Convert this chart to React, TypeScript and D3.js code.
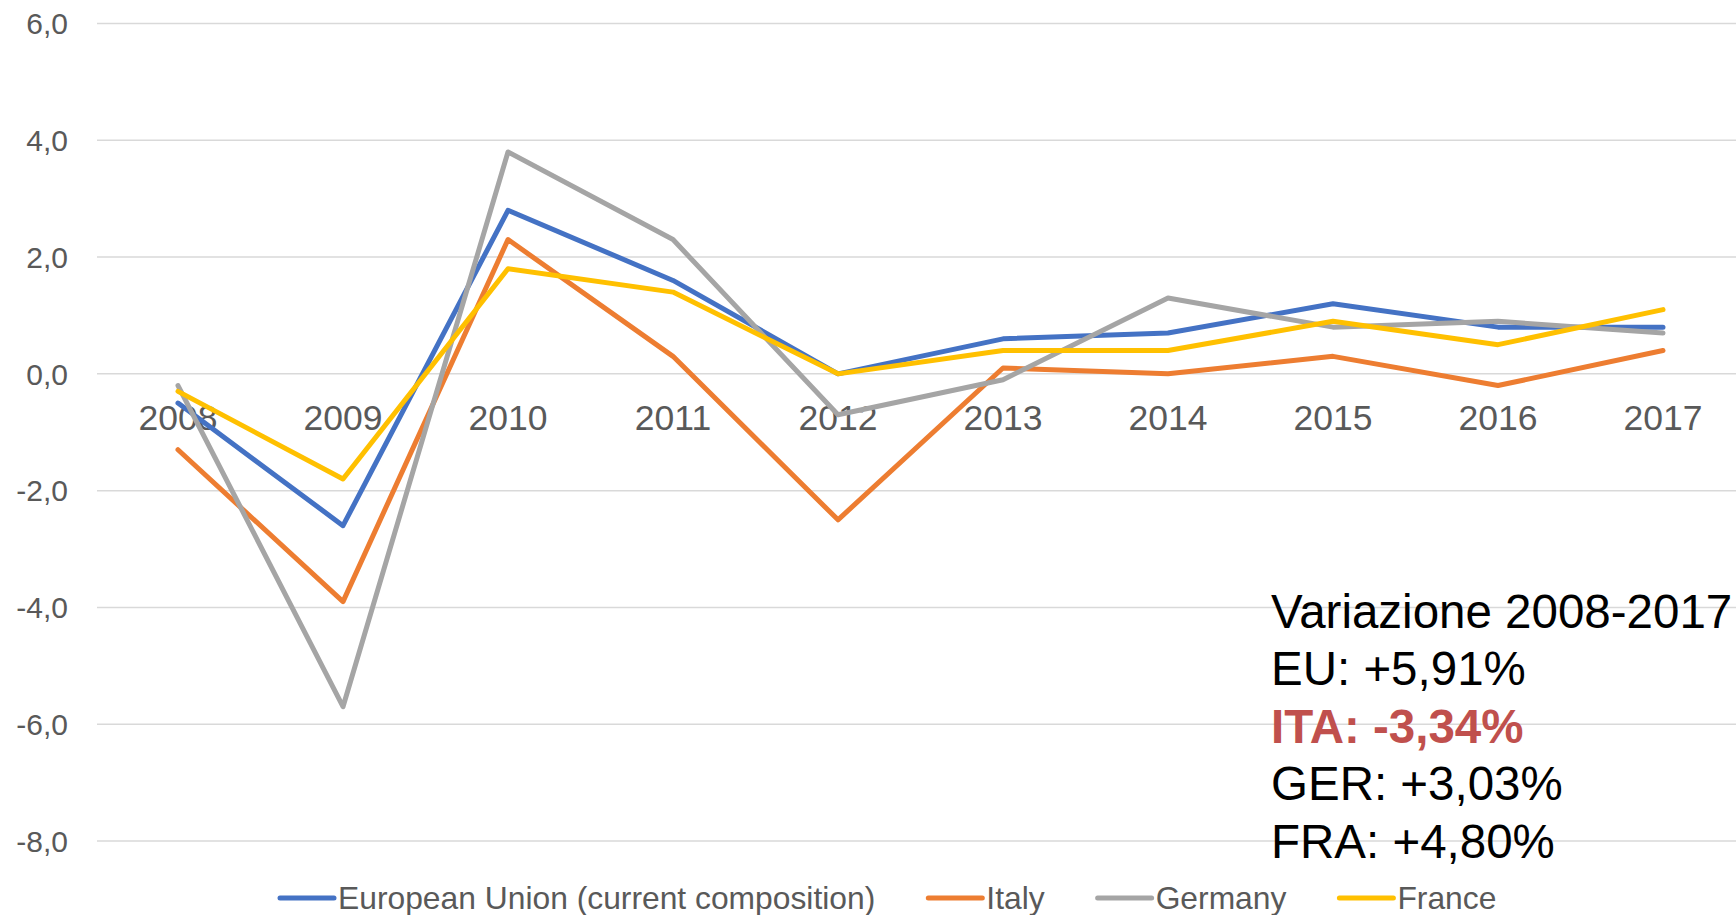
import { useEffect, useRef } from 'react';
import * as d3 from 'd3';

// Data (annual % change)
const years = ['2008', '2009', '2010', '2011', '2012', '2013', '2014', '2015', '2016', '2017'];
const euValues = [-0.5, -2.6, 2.8, 1.6, 0.0, 0.6, 0.7, 1.2, 0.8, 0.8];
const italyValues = [-1.3, -3.9, 2.3, 0.3, -2.5, 0.1, 0.0, 0.3, -0.2, 0.4];
const germanyValues = [-0.2, -5.7, 3.8, 2.3, -0.7, -0.1, 1.3, 0.8, 0.9, 0.7];
const franceValues = [-0.3, -1.8, 1.8, 1.4, 0.0, 0.4, 0.4, 0.9, 0.5, 1.1];
const yTicks = [6, 4, 2, 0, -2, -4, -6, -8];
const seriesNames = ['European Union (current composition)', 'Italy', 'Germany', 'France'];
const seriesColors = ['#4472C4', '#ED7D31', '#A5A5A5', '#FFC000'];
const noteLines = ['Variazione 2008-2017', 'EU: +5,91%', 'ITA: -3,34%', 'GER: +3,03%', 'FRA: +4,80%'];

const FONT = '"Liberation Sans", Arial, sans-serif';

const App = () => {
  const chartRef = useRef<HTMLDivElement>(null);

  useEffect(() => {
    document.body.style.margin = '0';
    document.body.style.overflow = 'hidden';
    if (!chartRef.current) return;

    d3.select(chartRef.current).selectAll('svg').remove();

    const width = 1736;
    const height = 915;

    const svg = d3.select(chartRef.current)
      .append('svg')
      .attr('width', width)
      .attr('height', height)
      .style('display', 'block')
      .style('background', '#fff')
      .style('font-family', FONT);

    const x = d3.scalePoint<string>()
      .domain(years)
      .range([178, 1663]);

    const y = d3.scaleLinear()
      .domain([-8, 6])
      .range([841, 23.5]);

    const gridLeft = 97;
    const gridRight = width;

    // Horizontal gridlines
    svg.append('g')
      .selectAll('line')
      .data(yTicks)
      .enter()
      .append('line')
      .attr('x1', gridLeft)
      .attr('x2', gridRight)
      .attr('y1', d => y(d))
      .attr('y2', d => y(d))
      .attr('stroke', '#D9D9D9')
      .attr('stroke-width', 1.5);

    // Y tick labels (plain hyphen for negatives, comma decimal)
    svg.append('g')
      .selectAll('text')
      .data(yTicks)
      .enter()
      .append('text')
      .attr('x', 68)
      .attr('y', d => y(d))
      .attr('dy', '0.36em')
      .attr('text-anchor', 'end')
      .style('font-size', '30px')
      .style('fill', '#595959')
      .text(d => d.toFixed(1).replace('.', ','));

    // X tick labels (drawn under the lines, just below the zero line)
    svg.append('g')
      .selectAll('text')
      .data(years)
      .enter()
      .append('text')
      .attr('x', d => x(d) as number)
      .attr('y', y(0) + 56)
      .attr('text-anchor', 'middle')
      .style('font-size', '35.5px')
      .style('fill', '#595959')
      .text(d => d);

    // Lines
    const allSeries = [euValues, italyValues, germanyValues, franceValues];
    const line = d3.line<number>()
      .x((d, i) => x(years[i]) as number)
      .y(d => y(d));

    svg.append('g')
      .selectAll('path')
      .data(allSeries)
      .enter()
      .append('path')
      .attr('d', d => line(d))
      .attr('fill', 'none')
      .attr('stroke', (d, i) => seriesColors[i])
      .attr('stroke-width', 5)
      .attr('stroke-linejoin', 'round')
      .attr('stroke-linecap', 'round');

    // Legend
    const legendG = svg.append('g')
      .attr('transform', `translate(280, ${y(-8) + 57})`);
    let offset = 0;
    seriesNames.forEach((name, i) => {
      const item = legendG.append('g').attr('transform', `translate(${offset}, 0)`);
      item.append('line')
        .attr('x1', 0)
        .attr('x2', 54)
        .attr('y1', 0)
        .attr('y2', 0)
        .attr('stroke', seriesColors[i])
        .attr('stroke-width', 5)
        .attr('stroke-linecap', 'round');
      const t = item.append('text')
        .attr('x', 58)
        .attr('dy', '0.36em')
        .style('font-size', '31.8px')
        .style('fill', '#595959')
        .text(name);
      const w = (t.node() as SVGTextElement).getComputedTextLength();
      offset += 58 + w + 53;
    });

    // Annotation
    const note = svg.append('g');
    noteLines.forEach((txt, i) => {
      note.append('text')
        .attr('x', 1271)
        .attr('y', 628 + i * 57.4)
        .style('font-size', '47.5px')
        .style('font-weight', i === 2 ? 'bold' : 'normal')
        .style('fill', i === 2 ? '#C0504D' : '#000000')
        .text(txt);
    });

    return () => {
      if (chartRef.current) {
        d3.select(chartRef.current).selectAll('svg').remove();
      }
    };
  }, []);

  return <div ref={chartRef} style={{ width: 1736, height: 915 }}></div>;
};

export default App;
